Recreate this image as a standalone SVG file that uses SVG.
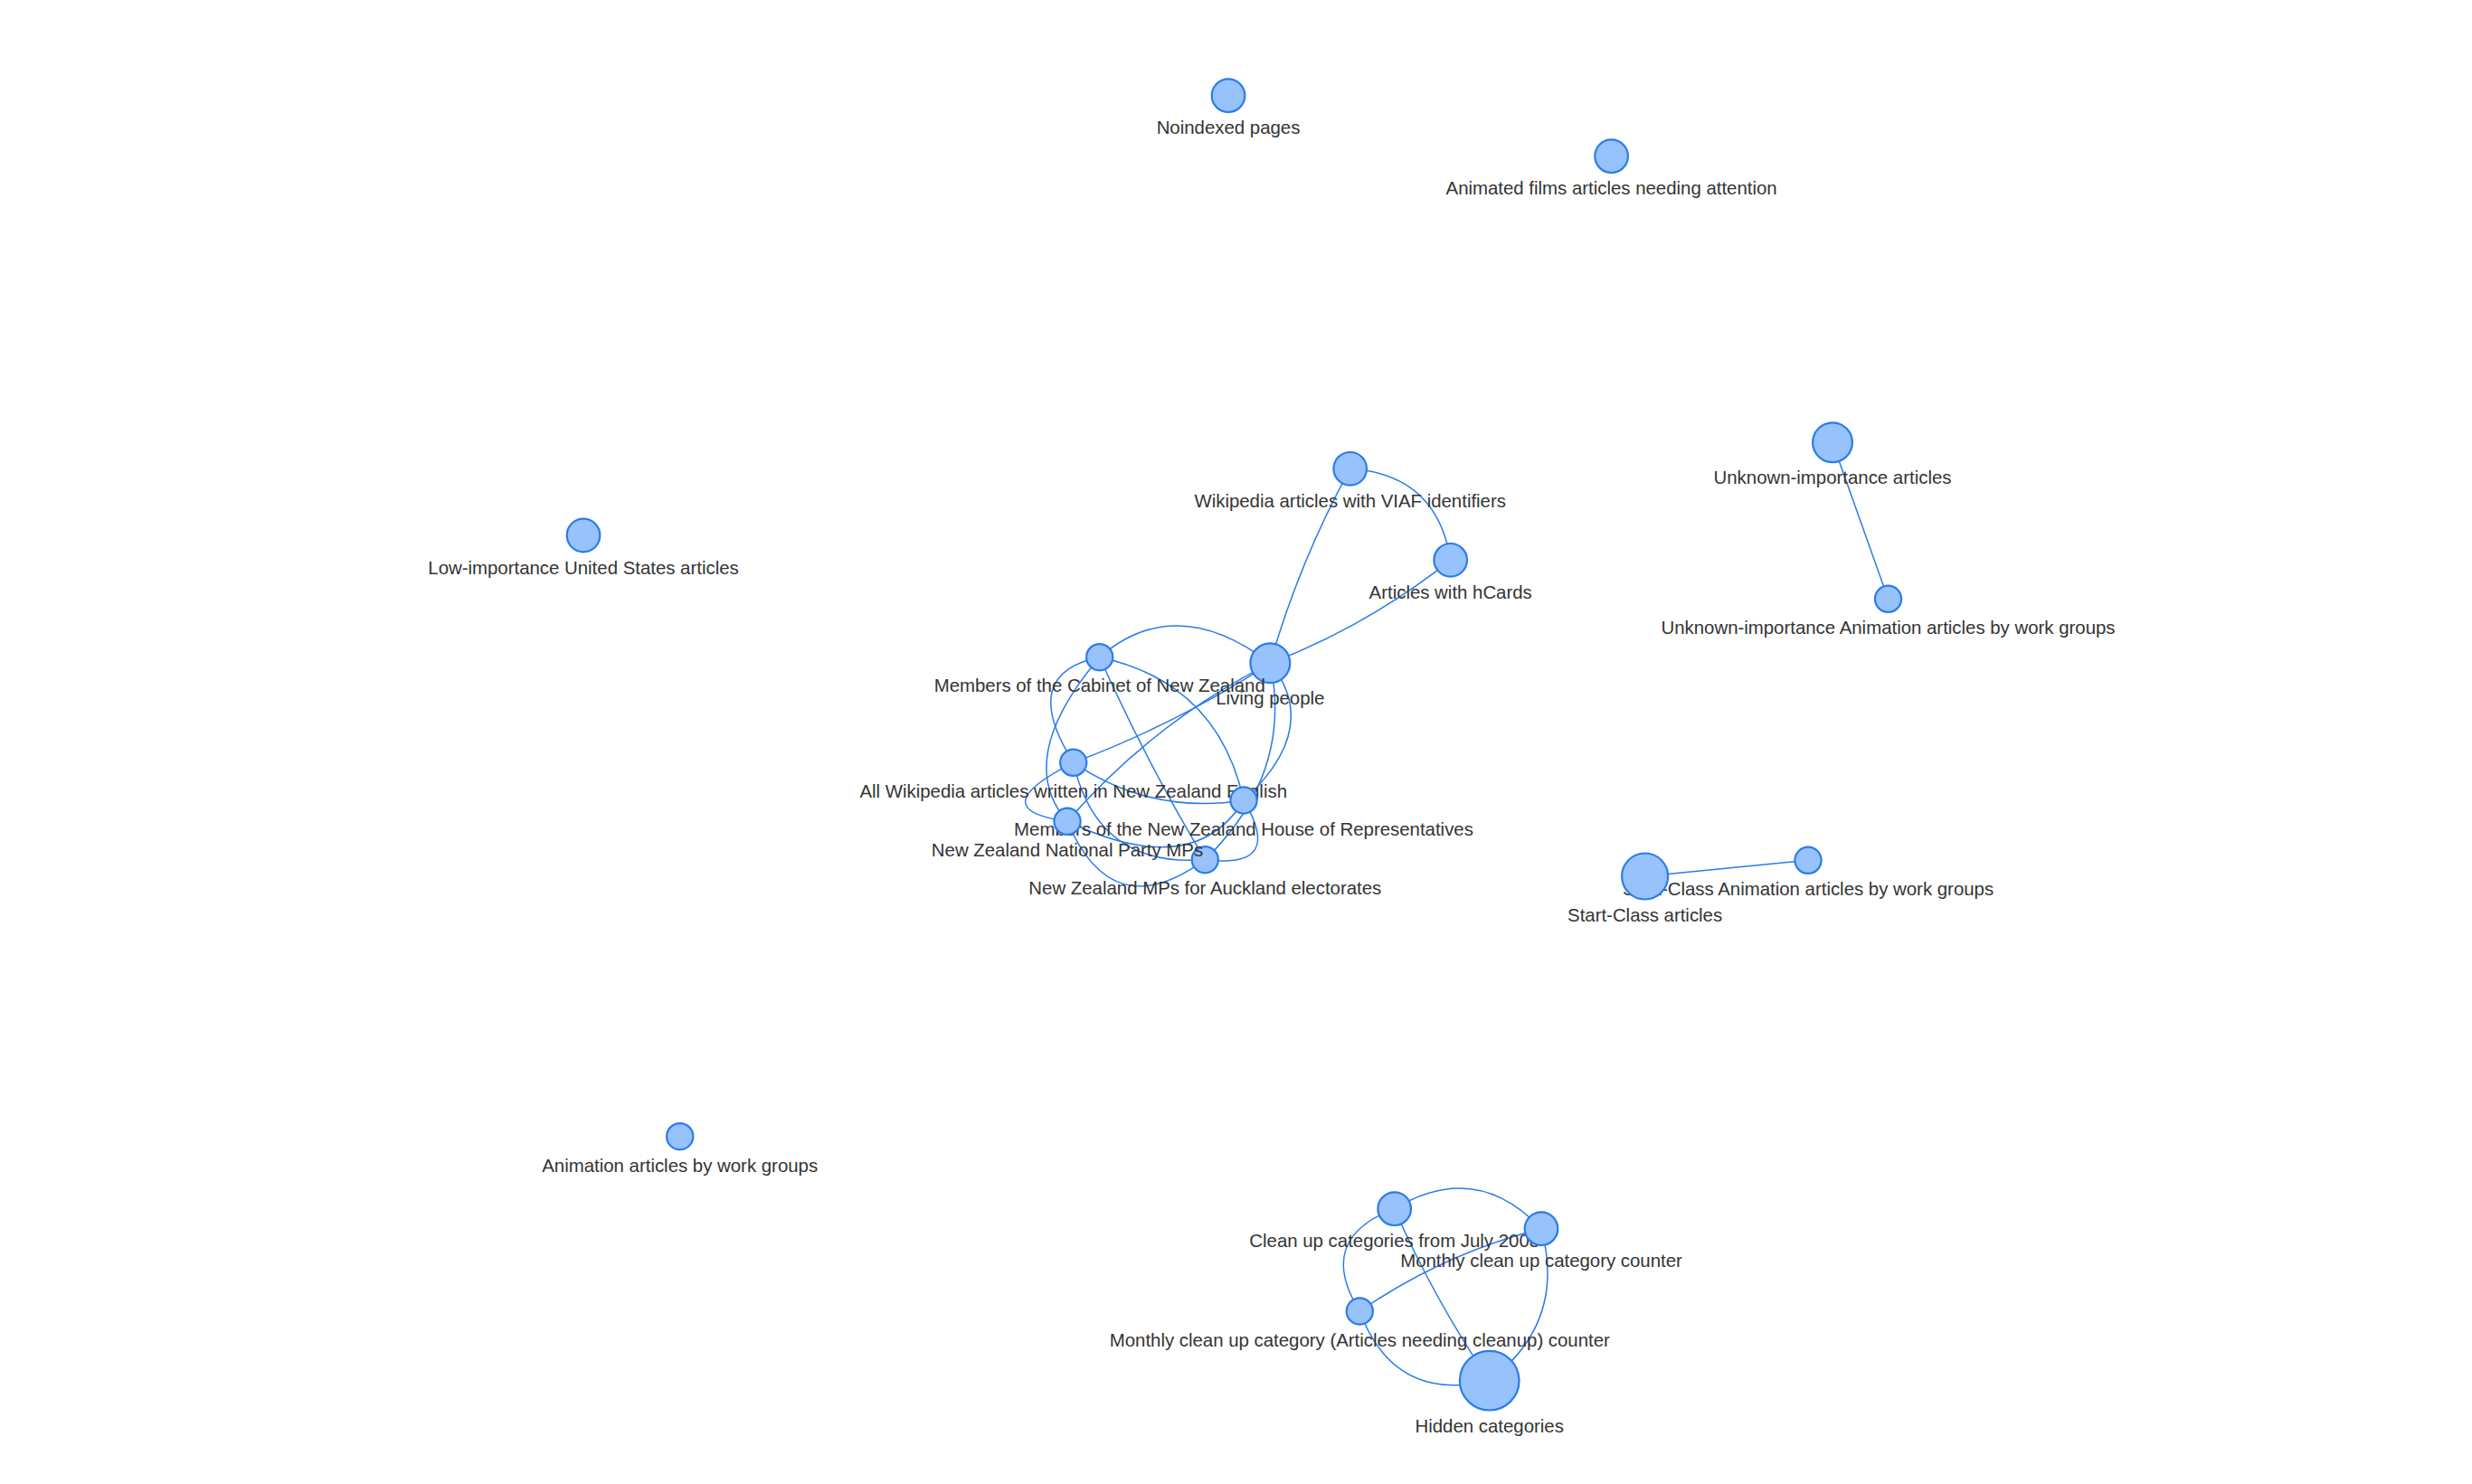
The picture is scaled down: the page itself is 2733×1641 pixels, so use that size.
<svg xmlns="http://www.w3.org/2000/svg" width="2733" height="1641" viewBox="0 0 2733 1641">
<style>
.e{fill:none;stroke:#2B7CE9;stroke-width:1.5}
.n circle{fill:#97C2FC;stroke:#2B7CE9;stroke-width:2.2}
.n text{font-family:"Liberation Sans",Arial,sans-serif;font-size:20.4px;fill:#343434;text-anchor:middle}
</style>
<rect width="2733" height="1641" fill="#ffffff"/>
<g id="edges">
<path class="e" d="M2026,489.3 L2087.5,662.3"/>
<path class="e" d="M1818.6,969 L1999,951.3"/>
<path class="e" d="M1492.7,518.3 Q1588.6,524.4 1603.7,619.3"/>
<path class="e" d="M1404.3,733.3 Q1436.5,620.9 1492.7,518.3"/>
<path class="e" d="M1404.3,733.3 Q1512,692 1603.7,619.3"/>
<path class="e" d="M1215.7,726.7 Q1300,654 1404.3,733.3"/>
<path class="e" d="M1215.7,726.7 Q1125,745 1186.7,843.3"/>
<path class="e" d="M1215.7,726.7 Q1120,840 1180,908.3"/>
<path class="e" d="M1215.7,726.7 Q1346.2,754.8 1375,885"/>
<path class="e" d="M1215.7,726.7 Q1267,842 1332.3,950.7"/>
<path class="e" d="M1186.7,843.3 Q1302,800 1404.3,733.3"/>
<path class="e" d="M1180,908.3 Q1275,798.7 1404.3,733.3"/>
<path class="e" d="M1404.3,733.3 Q1462,805 1375,885"/>
<path class="e" d="M1404.3,733.3 Q1430,855 1332.3,950.7"/>
<path class="e" d="M1375,885 Q1420.8,961.5 1332.3,950.7"/>
<path class="e" d="M1186.7,843.3 Q1272.7,901.3 1375,885"/>
<path class="e" d="M1186.7,843.3 Q1084,895 1180,908.3"/>
<path class="e" d="M1186.7,843.3 Q1213.2,959.8 1332.3,950.7"/>
<path class="e" d="M1180,908.3 Q1229.4,1025.8 1332.3,950.7"/>
<path class="e" d="M1180,908.3 Q1320,975 1375,885"/>
<path class="e" d="M1541.7,1336.7 Q1631.7,1282.3 1704,1358.7"/>
<path class="e" d="M1541.7,1336.7 Q1585.4,1436.5 1646.7,1526.7"/>
<path class="e" d="M1541.7,1336.7 Q1453.4,1369.9 1503.3,1450"/>
<path class="e" d="M1503.3,1450 Q1595.4,1386.2 1704,1358.7"/>
<path class="e" d="M1704,1358.7 Q1732.2,1462.1 1646.7,1526.7"/>
<path class="e" d="M1503.3,1450 Q1541,1551.9 1646.7,1526.7"/>
</g>
<g id="node-noindexed" class="n"><circle cx="1358" cy="105.7" r="18.3"/><text x="1358" y="148">Noindexed pages</text></g>
<g id="node-animated-films" class="n"><circle cx="1781.6" cy="172.7" r="18.3"/><text x="1781.6" y="215">Animated films articles needing attention</text></g>
<g id="node-low-us" class="n"><circle cx="645" cy="592" r="18.3"/><text x="645" y="634.5">Low-importance United States articles</text></g>
<g id="node-animation-wg" class="n"><circle cx="751.7" cy="1256.7" r="14.6"/><text x="751.7" y="1295.5">Animation articles by work groups</text></g>
<g id="node-unknown" class="n"><circle cx="2026" cy="489.3" r="21.9"/><text x="2026" y="535.2">Unknown-importance articles</text></g>
<g id="node-unknown-anim" class="n"><circle cx="2087.5" cy="662.3" r="14.6"/><text x="2087.5" y="701">Unknown-importance Animation articles by work groups</text></g>
<g id="node-startclass-anim" class="n"><circle cx="1999" cy="951.3" r="14.6"/><text x="1999" y="990">Start-Class Animation articles by work groups</text></g>
<g id="node-startclass" class="n"><circle cx="1818.6" cy="969" r="25.5"/><text x="1818.6" y="1018.5">Start-Class articles</text></g>
<g id="node-viaf" class="n"><circle cx="1492.7" cy="518.3" r="18.3"/><text x="1492.7" y="560.6">Wikipedia articles with VIAF identifiers</text></g>
<g id="node-hcards" class="n"><circle cx="1603.7" cy="619.3" r="18.3"/><text x="1603.7" y="661.6">Articles with hCards</text></g>
<g id="node-living" class="n"><circle cx="1404.3" cy="733.3" r="21.9"/><text x="1404.3" y="779.2">Living people</text></g>
<g id="node-cabinet" class="n"><circle cx="1215.7" cy="726.7" r="14.6"/><text x="1215.7" y="765.3">Members of the Cabinet of New Zealand</text></g>
<g id="node-nz-english" class="n"><circle cx="1186.7" cy="843.3" r="14.6"/><text x="1186.7" y="882">All Wikipedia articles written in New Zealand English</text></g>
<g id="node-house" class="n"><circle cx="1375" cy="885" r="14.6"/><text x="1375" y="923.6">Members of the New Zealand House of Representatives</text></g>
<g id="node-auckland" class="n"><circle cx="1332.3" cy="950.7" r="14.6"/><text x="1332.3" y="989.3">New Zealand MPs for Auckland electorates</text></g>
<g id="node-national" class="n"><circle cx="1180" cy="908.3" r="14.6"/><text x="1180" y="946.9">New Zealand National Party MPs</text></g>
<g id="node-cleanup-july" class="n"><circle cx="1541.7" cy="1336.7" r="18.3"/><text x="1541.7" y="1379">Clean up categories from July 2008</text></g>
<g id="node-monthly-counter" class="n"><circle cx="1704" cy="1358.7" r="18.3"/><text x="1704" y="1401">Monthly clean up category counter</text></g>
<g id="node-monthly-anc" class="n"><circle cx="1503.3" cy="1450" r="14.6"/><text x="1503.3" y="1488.6">Monthly clean up category (Articles needing cleanup) counter</text></g>
<g id="node-hidden" class="n"><circle cx="1646.7" cy="1526.7" r="32.8"/><text x="1646.7" y="1583.5">Hidden categories</text></g>
</svg>
